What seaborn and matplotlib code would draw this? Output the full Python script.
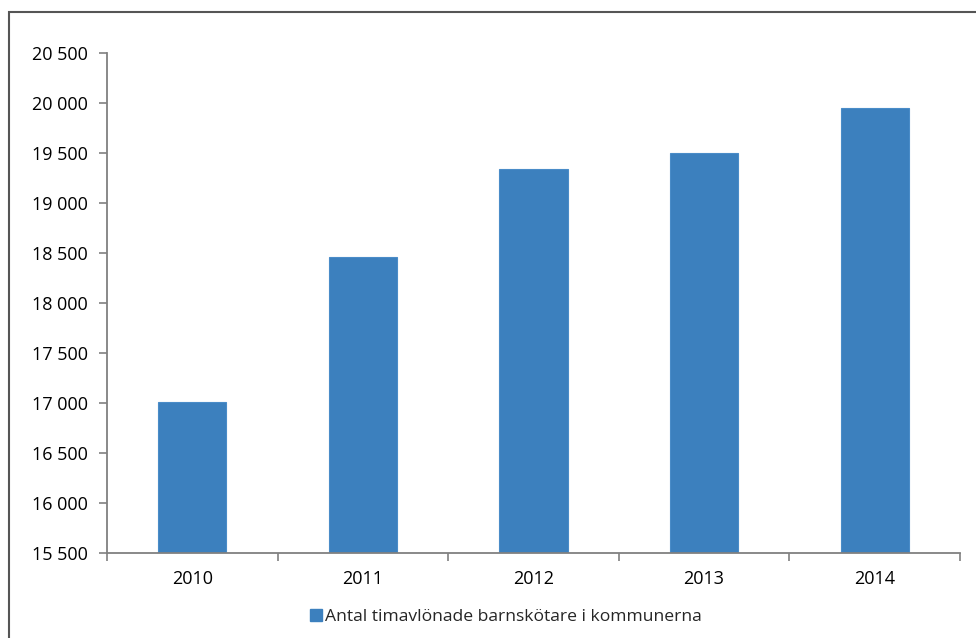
import numpy as np
import pandas as pd
import matplotlib
matplotlib.use("Agg")
import matplotlib.pyplot as plt
import seaborn as sns
from matplotlib.patches import Rectangle
from matplotlib.ticker import FuncFormatter, FixedLocator

# data
years = ["2010", "2011", "2012", "2013", "2014"]
antal = [17015, 18460, 19340, 19505, 19955]
serie = "Antal timavlönade barnskötare i kommunerna"

df = pd.DataFrame({"År": years, "Antal": antal})

sns.set_theme(style="white")
plt.rcParams["font.family"] = ["Open Sans", "DejaVu Sans"]

bar_col = "#3c80be"
axis_col = "#808080"

fig = plt.figure(figsize=(9.76, 6.38), dpi=100)
ax = fig.add_axes([107 / 976, 1 - 553 / 638, (960 - 107) / 976, (553 - 53) / 638])

sns.barplot(data=df, x="År", y="Antal", color=bar_col, width=0.4,
            edgecolor="#4a8cc8", linewidth=0.8, saturation=1, ax=ax)

ax.set_ylim(15500, 20500)
ax.set_xlim(-0.5, len(years) - 0.5)
ax.set_yticks(np.arange(15500, 20501, 500))
ax.yaxis.set_major_formatter(FuncFormatter(lambda v, p: f"{int(v):,}".replace(",", " ")))
ax.set_xlabel("")
ax.set_ylabel("")

for s in ["top", "right"]:
    ax.spines[s].set_visible(False)
for s in ["left", "bottom"]:
    ax.spines[s].set_color(axis_col)
    ax.spines[s].set_linewidth(1.3)

ax.tick_params(axis="y", which="major", length=6, width=1.2, color=axis_col,
               direction="out", left=True, labelsize=13, pad=8, labelcolor="black")
ax.tick_params(axis="x", which="major", length=0, labelsize=13, pad=12, labelcolor="black")
ax.xaxis.set_minor_locator(FixedLocator(np.arange(-0.5, len(years), 1.0)))
ax.tick_params(axis="x", which="minor", length=6, width=1.2, color=axis_col,
               direction="out", bottom=True)

# legend below the plot
handle = plt.Line2D([], [], marker="s", color=bar_col, linestyle="none", markersize=8.5)
fig.legend([handle], [serie], loc="center left",
           bbox_to_anchor=(300 / 976, 1 - 617 / 638), frameon=False,
           fontsize=12.6, handletextpad=0.05, handlelength=1.0, borderaxespad=0)

# outer frame (cut off at right and bottom)
fig.patches.append(Rectangle((9 / 976, -0.1), 1.2, 1 - 12 / 638 + 0.1,
                             transform=fig.transFigure, fill=False,
                             edgecolor="#555555", linewidth=1.5))

fig.savefig("out.png", dpi=100)
